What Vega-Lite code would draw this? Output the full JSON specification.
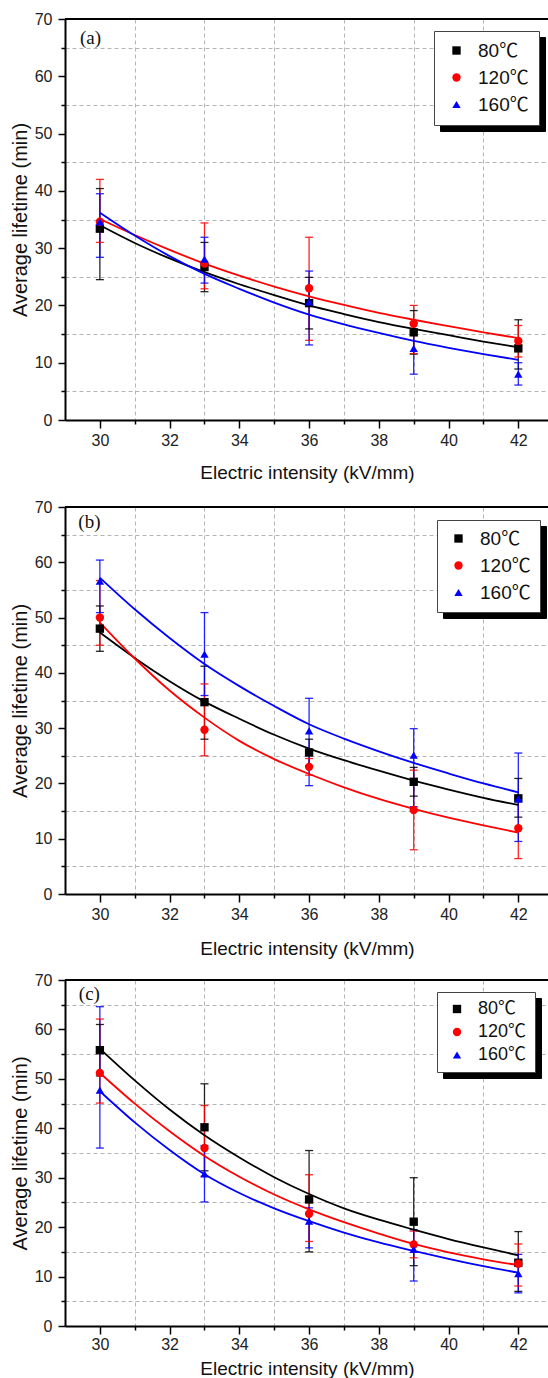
{
"$schema": "https://vega.github.io/schema/vega-lite/v6.json",
"padding": {"left": 10, "top": 11, "right": 0, "bottom": 0},
"background": "white",
"config": {"view": {"stroke": null}, "font": "Liberation Sans"},
"datasets": {
"pts": [
{"p":"a","t":"80℃","kv":30,"v":33.4,"lo":24.5,"hi":40.4},
{"p":"a","t":"80℃","kv":33,"v":26.7,"lo":22.4,"hi":31.0},
{"p":"a","t":"80℃","kv":36,"v":20.4,"lo":15.9,"hi":24.9},
{"p":"a","t":"80℃","kv":39,"v":15.3,"lo":11.5,"hi":19.1},
{"p":"a","t":"80℃","kv":42,"v":12.5,"lo":8.9,"hi":17.5},
{"p":"a","t":"120℃","kv":30,"v":34.6,"lo":31.0,"hi":42.0},
{"p":"a","t":"120℃","kv":33,"v":27.3,"lo":22.9,"hi":34.4},
{"p":"a","t":"120℃","kv":36,"v":23.0,"lo":13.9,"hi":31.9},
{"p":"a","t":"120℃","kv":39,"v":16.8,"lo":11.6,"hi":20.0},
{"p":"a","t":"120℃","kv":42,"v":13.8,"lo":11.0,"hi":16.5},
{"p":"a","t":"160℃","kv":30,"v":34.6,"lo":28.4,"hi":39.5},
{"p":"a","t":"160℃","kv":33,"v":28.1,"lo":23.9,"hi":31.9},
{"p":"a","t":"160℃","kv":36,"v":20.6,"lo":13.1,"hi":26.0},
{"p":"a","t":"160℃","kv":39,"v":12.5,"lo":8.0,"hi":17.0},
{"p":"a","t":"160℃","kv":42,"v":8.0,"lo":6.1,"hi":10.0},
{"p":"b","t":"80℃","kv":30,"v":48.0,"lo":43.9,"hi":52.1},
{"p":"b","t":"80℃","kv":33,"v":34.7,"lo":28.0,"hi":41.2},
{"p":"b","t":"80℃","kv":36,"v":25.6,"lo":23.2,"hi":28.0},
{"p":"b","t":"80℃","kv":39,"v":20.3,"lo":17.7,"hi":22.9},
{"p":"b","t":"80℃","kv":42,"v":17.3,"lo":13.9,"hi":20.9},
{"p":"b","t":"120℃","kv":30,"v":50.0,"lo":45.0,"hi":56.7},
{"p":"b","t":"120℃","kv":33,"v":29.7,"lo":25.0,"hi":38.0},
{"p":"b","t":"120℃","kv":36,"v":23.0,"lo":21.5,"hi":24.5},
{"p":"b","t":"120℃","kv":39,"v":15.2,"lo":8.0,"hi":22.4},
{"p":"b","t":"120℃","kv":42,"v":11.9,"lo":6.4,"hi":17.4},
{"p":"b","t":"160℃","kv":30,"v":56.6,"lo":50.9,"hi":60.4},
{"p":"b","t":"160℃","kv":33,"v":43.4,"lo":35.9,"hi":50.9},
{"p":"b","t":"160℃","kv":36,"v":29.5,"lo":19.6,"hi":35.4},
{"p":"b","t":"160℃","kv":39,"v":25.1,"lo":15.8,"hi":29.9},
{"p":"b","t":"160℃","kv":42,"v":17.2,"lo":9.5,"hi":25.5},
{"p":"c","t":"80℃","kv":30,"v":55.8,"lo":50.6,"hi":61.0},
{"p":"c","t":"80℃","kv":33,"v":40.2,"lo":31.4,"hi":49.0},
{"p":"c","t":"80℃","kv":36,"v":25.6,"lo":15.0,"hi":35.5},
{"p":"c","t":"80℃","kv":39,"v":21.1,"lo":12.2,"hi":30.0},
{"p":"c","t":"80℃","kv":42,"v":12.8,"lo":7.0,"hi":19.1},
{"p":"c","t":"120℃","kv":30,"v":51.2,"lo":45.1,"hi":62.1},
{"p":"c","t":"120℃","kv":33,"v":36.0,"lo":30.3,"hi":44.6},
{"p":"c","t":"120℃","kv":36,"v":22.7,"lo":17.1,"hi":30.6},
{"p":"c","t":"120℃","kv":39,"v":16.5,"lo":13.8,"hi":19.2},
{"p":"c","t":"120℃","kv":42,"v":12.6,"lo":8.1,"hi":16.6},
{"p":"c","t":"160℃","kv":30,"v":47.7,"lo":36.0,"hi":64.6},
{"p":"c","t":"160℃","kv":33,"v":30.8,"lo":25.1,"hi":36.5},
{"p":"c","t":"160℃","kv":36,"v":21.2,"lo":15.8,"hi":23.9},
{"p":"c","t":"160℃","kv":39,"v":15.5,"lo":9.1,"hi":19.5},
{"p":"c","t":"160℃","kv":42,"v":10.6,"lo":6.7,"hi":14.5}
],
"curves": [
{"p":"a","t":"80℃","kv":30,"v":34.0},{"p":"a","t":"80℃","kv":31,"v":30.9},{"p":"a","t":"80℃","kv":32,"v":28.2},{"p":"a","t":"80℃","kv":33,"v":25.8},{"p":"a","t":"80℃","kv":34,"v":23.7},{"p":"a","t":"80℃","kv":35,"v":21.8},{"p":"a","t":"80℃","kv":36,"v":20.0},{"p":"a","t":"80℃","kv":37,"v":18.5},{"p":"a","t":"80℃","kv":38,"v":17.1},{"p":"a","t":"80℃","kv":39,"v":15.9},{"p":"a","t":"80℃","kv":40,"v":14.8},{"p":"a","t":"80℃","kv":41,"v":13.7},{"p":"a","t":"80℃","kv":42,"v":12.7},
{"p":"a","t":"120℃","kv":30,"v":35.1},{"p":"a","t":"120℃","kv":31,"v":32.3},{"p":"a","t":"120℃","kv":32,"v":29.7},{"p":"a","t":"120℃","kv":33,"v":27.3},{"p":"a","t":"120℃","kv":34,"v":25.2},{"p":"a","t":"120℃","kv":35,"v":23.3},{"p":"a","t":"120℃","kv":36,"v":21.6},{"p":"a","t":"120℃","kv":37,"v":20.1},{"p":"a","t":"120℃","kv":38,"v":18.7},{"p":"a","t":"120℃","kv":39,"v":17.5},{"p":"a","t":"120℃","kv":40,"v":16.4},{"p":"a","t":"120℃","kv":41,"v":15.3},{"p":"a","t":"120℃","kv":42,"v":14.3},
{"p":"a","t":"160℃","kv":30,"v":36.2},{"p":"a","t":"160℃","kv":31,"v":32.2},{"p":"a","t":"160℃","kv":32,"v":28.6},{"p":"a","t":"160℃","kv":33,"v":25.5},{"p":"a","t":"160℃","kv":34,"v":22.9},{"p":"a","t":"160℃","kv":35,"v":20.5},{"p":"a","t":"160℃","kv":36,"v":18.4},{"p":"a","t":"160℃","kv":37,"v":16.7},{"p":"a","t":"160℃","kv":38,"v":15.2},{"p":"a","t":"160℃","kv":39,"v":13.8},{"p":"a","t":"160℃","kv":40,"v":12.6},{"p":"a","t":"160℃","kv":41,"v":11.5},{"p":"a","t":"160℃","kv":42,"v":10.5},
{"p":"b","t":"80℃","kv":30,"v":47.3},{"p":"b","t":"80℃","kv":31,"v":42.7},{"p":"b","t":"80℃","kv":32,"v":38.5},{"p":"b","t":"80℃","kv":33,"v":34.8},{"p":"b","t":"80℃","kv":34,"v":31.7},{"p":"b","t":"80℃","kv":35,"v":28.8},{"p":"b","t":"80℃","kv":36,"v":26.3},{"p":"b","t":"80℃","kv":37,"v":24.2},{"p":"b","t":"80℃","kv":38,"v":22.3},{"p":"b","t":"80℃","kv":39,"v":20.5},{"p":"b","t":"80℃","kv":40,"v":18.9},{"p":"b","t":"80℃","kv":41,"v":17.4},{"p":"b","t":"80℃","kv":42,"v":16.1},
{"p":"b","t":"120℃","kv":30,"v":49.1},{"p":"b","t":"120℃","kv":31,"v":42.6},{"p":"b","t":"120℃","kv":32,"v":36.8},{"p":"b","t":"120℃","kv":33,"v":31.9},{"p":"b","t":"120℃","kv":34,"v":27.7},{"p":"b","t":"120℃","kv":35,"v":24.4},{"p":"b","t":"120℃","kv":36,"v":21.7},{"p":"b","t":"120℃","kv":37,"v":19.3},{"p":"b","t":"120℃","kv":38,"v":17.2},{"p":"b","t":"120℃","kv":39,"v":15.4},{"p":"b","t":"120℃","kv":40,"v":13.8},{"p":"b","t":"120℃","kv":41,"v":12.4},{"p":"b","t":"120℃","kv":42,"v":11.1},
{"p":"b","t":"160℃","kv":30,"v":57.2},{"p":"b","t":"160℃","kv":31,"v":51.5},{"p":"b","t":"160℃","kv":32,"v":46.3},{"p":"b","t":"160℃","kv":33,"v":41.6},{"p":"b","t":"160℃","kv":34,"v":37.6},{"p":"b","t":"160℃","kv":35,"v":34.0},{"p":"b","t":"160℃","kv":36,"v":30.7},{"p":"b","t":"160℃","kv":37,"v":28.1},{"p":"b","t":"160℃","kv":38,"v":25.8},{"p":"b","t":"160℃","kv":39,"v":23.7},{"p":"b","t":"160℃","kv":40,"v":21.8},{"p":"b","t":"160℃","kv":41,"v":20.0},{"p":"b","t":"160℃","kv":42,"v":18.4},
{"p":"c","t":"80℃","kv":30,"v":56.1},{"p":"c","t":"80℃","kv":31,"v":49.7},{"p":"c","t":"80℃","kv":32,"v":43.8},{"p":"c","t":"80℃","kv":33,"v":38.6},{"p":"c","t":"80℃","kv":34,"v":34.1},{"p":"c","t":"80℃","kv":35,"v":30.1},{"p":"c","t":"80℃","kv":36,"v":26.7},{"p":"c","t":"80℃","kv":37,"v":23.8},{"p":"c","t":"80℃","kv":38,"v":21.5},{"p":"c","t":"80℃","kv":39,"v":19.5},{"p":"c","t":"80℃","kv":40,"v":17.6},{"p":"c","t":"80℃","kv":41,"v":15.9},{"p":"c","t":"80℃","kv":42,"v":14.3},
{"p":"c","t":"120℃","kv":30,"v":51.2},{"p":"c","t":"120℃","kv":31,"v":45.0},{"p":"c","t":"120℃","kv":32,"v":39.4},{"p":"c","t":"120℃","kv":33,"v":34.4},{"p":"c","t":"120℃","kv":34,"v":30.2},{"p":"c","t":"120℃","kv":35,"v":26.6},{"p":"c","t":"120℃","kv":36,"v":23.6},{"p":"c","t":"120℃","kv":37,"v":21.0},{"p":"c","t":"120℃","kv":38,"v":18.7},{"p":"c","t":"120℃","kv":39,"v":16.6},{"p":"c","t":"120℃","kv":40,"v":14.9},{"p":"c","t":"120℃","kv":41,"v":13.5},{"p":"c","t":"120℃","kv":42,"v":12.3},
{"p":"c","t":"160℃","kv":30,"v":47.5},{"p":"c","t":"160℃","kv":31,"v":41.2},{"p":"c","t":"160℃","kv":32,"v":35.6},{"p":"c","t":"160℃","kv":33,"v":30.7},{"p":"c","t":"160℃","kv":34,"v":26.9},{"p":"c","t":"160℃","kv":35,"v":23.8},{"p":"c","t":"160℃","kv":36,"v":21.2},{"p":"c","t":"160℃","kv":37,"v":18.9},{"p":"c","t":"160℃","kv":38,"v":16.9},{"p":"c","t":"160℃","kv":39,"v":15.2},{"p":"c","t":"160℃","kv":40,"v":13.6},{"p":"c","t":"160℃","kv":41,"v":12.1},{"p":"c","t":"160℃","kv":42,"v":10.8}
]
},
"spacing": 17,
"resolve": {"scale": {"x": "independent", "y": "independent", "color": "independent", "shape": "independent", "stroke": "independent", "fill": "independent", "strokeDash": "independent"}},
"vconcat": [
{
"width": 484, "height": 401,
"resolve": {"axis": {"y": "independent"}},
"layer": [
{"data": {"name": "curves"}, "transform": [{"filter": "datum.p == 'a'"}],
 "mark": {"type": "line", "opacity": 0},
 "encoding": {"x": {"field": "kv", "type": "quantitative", "scale": {"domain": [29, 42.88], "nice": false, "zero": false}},
  "y": {"field": "v", "type": "quantitative", "scale": {"domain": [0, 70], "nice": false}, "axis": null},
  "strokeDash": {"field": "t", "type": "nominal", "legend": {"orient": "none", "legendX": 375, "legendY": 18, "title": null, "padding": 10, "rowPadding": 7, "labelFont": "Liberation Sans, Noto Sans CJK SC", "labelFontSize": 19, "labelColor": "#000", "labelOffset": 12, "symbolSize": 70, "symbolOffset": 3, "symbolType": "square", "symbolFillColor": "#000", "symbolStrokeColor": "#000", "fillColor": "#000", "strokeColor": "#000"}}}},
{"data": {"name": "pts"}, "transform": [{"filter": "datum.p == 'a'"}],
 "mark": {"type": "rule", "strokeWidth": 1.3, "opacity": 0.85},
 "encoding": {"x": {"field": "kv", "type": "quantitative", "scale": {"domain": [29, 42.88], "nice": false, "zero": false},
   "axis": {"values": [30,31,32,33,34,35,36,37,38,39,40,41,42], "labelExpr": "datum.value % 2 == 0 ? datum.label : ''",
   "tickSize": {"condition": {"test": "datum.value % 2 == 0", "value": 8}, "value": 4},
   "grid": true, "gridOpacity": {"condition": {"test": "datum.value % 2 == 0", "value": 0}, "value": 1},
   "gridColor": "#b4b4b4", "gridDash": [4, 3], "gridWidth": 1,
   "domainColor": "#000", "domainWidth": 2, "tickColor": "#000", "tickWidth": 1.5,
   "labelFont": "Liberation Sans", "labelFontSize": 16, "labelColor": "#222", "labelPadding": 4,
   "title": "Electric intensity (kV/mm)", "titleFont": "Liberation Sans", "titleFontSize": 19, "titleFontWeight": "normal", "titleColor": "#111", "titlePadding": 15}},
  "y": {"field": "lo", "type": "quantitative", "scale": {"domain": [0, 70], "nice": false},
  "axis": {"values": [0,5,10,15,20,25,30,35,40,45,50,55,60,65,70], "labelExpr": "datum.value % 10 == 0 ? datum.label : ''",
   "tickSize": {"condition": {"test": "datum.value % 10 == 0", "value": 7}, "value": 4},
   "grid": true, "gridOpacity": {"condition": {"test": "datum.value % 10 == 0", "value": 0}, "value": 1},
   "gridColor": "#b4b4b4", "gridDash": [4, 3], "gridWidth": 1,
   "domainColor": "#000", "domainWidth": 2, "tickColor": "#000", "tickWidth": 1.5,
   "labelFont": "Liberation Sans", "labelFontSize": 16, "labelColor": "#222", "labelPadding": 6,
   "title": "Average lifetime (min)", "titleFont": "Liberation Sans", "titleFontSize": 20, "titleFontWeight": "normal", "titleColor": "#111", "titlePadding": 4}},
  "y2": {"field": "hi"},
  "stroke": {"field": "t", "type": "nominal", "scale": {"domain": ["120℃", "80℃", "160℃"], "range": ["#ff0000", "#000000", "#0000ff"]}, "legend": null}}},
{"data": {"values": [{}]}, "mark": {"type": "rule", "color": "#000", "strokeWidth": 2},
 "encoding": {"y": {"datum": 70, "type": "quantitative", "scale": {"domain": [0, 70], "nice": false}, "axis": null}}},
{"data": {"name": "pts"}, "transform": [{"filter": "datum.p == 'a'"}],
 "mark": {"type": "tick", "orient": "horizontal", "size": 8, "thickness": 1.3, "opacity": 0.85},
 "encoding": {"x": {"field": "kv", "type": "quantitative", "scale": {"domain": [29, 42.88], "nice": false, "zero": false}},
  "y": {"field": "lo", "type": "quantitative", "scale": {"domain": [0, 70], "nice": false}, "axis": null},
  "fill": {"field": "t", "type": "nominal", "scale": {"domain": ["160℃", "120℃", "80℃"], "range": ["#0000ff", "#ff0000", "#000000"]}, "legend": null}}},
{"data": {"name": "pts"}, "transform": [{"filter": "datum.p == 'a'"}],
 "mark": {"type": "tick", "orient": "horizontal", "size": 8, "thickness": 1.3, "opacity": 0.85},
 "encoding": {"x": {"field": "kv", "type": "quantitative", "scale": {"domain": [29, 42.88], "nice": false, "zero": false}},
  "y": {"field": "hi", "type": "quantitative", "scale": {"domain": [0, 70], "nice": false}, "axis": null},
  "fill": {"field": "t", "type": "nominal", "scale": {"domain": ["160℃", "120℃", "80℃"], "range": ["#0000ff", "#ff0000", "#000000"]}, "legend": null}}},
{"data": {"name": "curves"}, "transform": [{"filter": "datum.p == 'a'"}],
 "mark": {"type": "line", "interpolate": "monotone", "strokeWidth": 1.8},
 "encoding": {"x": {"field": "kv", "type": "quantitative", "scale": {"domain": [29, 42.88], "nice": false, "zero": false}},
  "y": {"field": "v", "type": "quantitative", "scale": {"domain": [0, 70], "nice": false}, "axis": null},
  "stroke": {"field": "t", "type": "nominal", "scale": {"domain": ["120℃", "80℃", "160℃"], "range": ["#ff0000", "#000000", "#0000ff"]}, "legend": null}}},
{"data": {"name": "pts"}, "transform": [{"filter": "datum.p == 'a'"}],
 "mark": {"type": "point", "filled": true, "size": 70, "opacity": 1},
 "encoding": {"x": {"field": "kv", "type": "quantitative", "scale": {"domain": [29, 42.88], "nice": false, "zero": false}},
  "y": {"field": "v", "type": "quantitative", "scale": {"domain": [0, 70], "nice": false}, "axis": null},
  "color": {"field": "t", "type": "nominal", "scale": {"domain": ["80℃", "120℃", "160℃"], "range": ["#000000", "#ff0000", "#0000ff"]},
   "legend": {"orient": "none", "legendX": 369, "legendY": 12, "title": null, "padding": 10, "rowPadding": 7, "labelFont": "Liberation Sans, Noto Sans CJK SC", "labelFontSize": 19, "labelColor": "#111", "labelOffset": 12, "symbolSize": 70, "symbolOffset": 3, "fillColor": "#ffffff", "strokeColor": "#444"}},
  "shape": {"field": "t", "type": "nominal", "scale": {"domain": ["80℃", "120℃", "160℃"], "range": ["square", "circle", "triangle-up"]},
   "legend": {"orient": "none", "legendX": 369, "legendY": 12, "title": null, "padding": 10, "rowPadding": 7, "labelFont": "Liberation Sans, Noto Sans CJK SC", "labelFontSize": 19, "labelColor": "#111", "labelOffset": 12, "symbolSize": 70, "symbolOffset": 3, "fillColor": "#ffffff", "strokeColor": "#444"}}}},
{"data": {"values": [{"lab": "(a)"}]},
 "mark": {"type": "text", "font": "Liberation Serif", "fontSize": 19, "color": "#111", "align": "center", "baseline": "middle"},
 "encoding": {"x": {"datum": 29.73, "type": "quantitative", "scale": {"domain": [29, 42.88], "nice": false, "zero": false}},
  "y": {"datum": 66.6, "type": "quantitative", "scale": {"domain": [0, 70], "nice": false}, "axis": null},
  "text": {"field": "lab"}}}
]
},
{
"spacing": 14,
"resolve": {"scale": {"x": "independent", "y": "independent", "color": "independent", "shape": "independent", "stroke": "independent", "fill": "independent", "strokeDash": "independent"}},
"vconcat": [
{
"width": 484, "height": 387,
"resolve": {"axis": {"y": "independent"}},
"layer": [
{"data": {"name": "curves"}, "transform": [{"filter": "datum.p == 'b'"}],
 "mark": {"type": "line", "opacity": 0},
 "encoding": {"x": {"field": "kv", "type": "quantitative", "scale": {"domain": [29, 42.88], "nice": false, "zero": false}},
  "y": {"field": "v", "type": "quantitative", "scale": {"domain": [0, 70], "nice": false}, "axis": null},
  "strokeDash": {"field": "t", "type": "nominal", "legend": {"orient": "none", "legendX": 378, "legendY": 19, "title": null, "padding": 9, "rowPadding": 7, "labelFont": "Liberation Sans, Noto Sans CJK SC", "labelFontSize": 19, "labelColor": "#000", "labelOffset": 12, "symbolSize": 70, "symbolOffset": 3, "symbolType": "square", "symbolFillColor": "#000", "symbolStrokeColor": "#000", "fillColor": "#000", "strokeColor": "#000"}}}},
{"data": {"name": "pts"}, "transform": [{"filter": "datum.p == 'b'"}],
 "mark": {"type": "rule", "strokeWidth": 1.3, "opacity": 0.85},
 "encoding": {"x": {"field": "kv", "type": "quantitative", "scale": {"domain": [29, 42.88], "nice": false, "zero": false},
   "axis": {"values": [30,31,32,33,34,35,36,37,38,39,40,41,42], "labelExpr": "datum.value % 2 == 0 ? datum.label : ''",
   "tickSize": {"condition": {"test": "datum.value % 2 == 0", "value": 8}, "value": 4},
   "grid": true, "gridOpacity": {"condition": {"test": "datum.value % 2 == 0", "value": 0}, "value": 1},
   "gridColor": "#b4b4b4", "gridDash": [4, 3], "gridWidth": 1,
   "domainColor": "#000", "domainWidth": 2, "tickColor": "#000", "tickWidth": 1.5,
   "labelFont": "Liberation Sans", "labelFontSize": 16, "labelColor": "#222", "labelPadding": 4,
   "title": "Electric intensity (kV/mm)", "titleFont": "Liberation Sans", "titleFontSize": 19, "titleFontWeight": "normal", "titleColor": "#111", "titlePadding": 17}},
  "y": {"field": "lo", "type": "quantitative", "scale": {"domain": [0, 70], "nice": false},
  "axis": {"values": [0,5,10,15,20,25,30,35,40,45,50,55,60,65,70], "labelExpr": "datum.value % 10 == 0 ? datum.label : ''",
   "tickSize": {"condition": {"test": "datum.value % 10 == 0", "value": 7}, "value": 4},
   "grid": true, "gridOpacity": {"condition": {"test": "datum.value % 10 == 0", "value": 0}, "value": 1},
   "gridColor": "#b4b4b4", "gridDash": [4, 3], "gridWidth": 1,
   "domainColor": "#000", "domainWidth": 2, "tickColor": "#000", "tickWidth": 1.5,
   "labelFont": "Liberation Sans", "labelFontSize": 16, "labelColor": "#222", "labelPadding": 6,
   "title": "Average lifetime (min)", "titleFont": "Liberation Sans", "titleFontSize": 20, "titleFontWeight": "normal", "titleColor": "#111", "titlePadding": 4}},
  "y2": {"field": "hi"},
  "stroke": {"field": "t", "type": "nominal", "scale": {"domain": ["120℃", "80℃", "160℃"], "range": ["#ff0000", "#000000", "#0000ff"]}, "legend": null}}},
{"data": {"values": [{}]}, "mark": {"type": "rule", "color": "#000", "strokeWidth": 2},
 "encoding": {"y": {"datum": 70, "type": "quantitative", "scale": {"domain": [0, 70], "nice": false}, "axis": null}}},
{"data": {"name": "pts"}, "transform": [{"filter": "datum.p == 'b'"}],
 "mark": {"type": "tick", "orient": "horizontal", "size": 8, "thickness": 1.3, "opacity": 0.85},
 "encoding": {"x": {"field": "kv", "type": "quantitative", "scale": {"domain": [29, 42.88], "nice": false, "zero": false}},
  "y": {"field": "lo", "type": "quantitative", "scale": {"domain": [0, 70], "nice": false}, "axis": null},
  "fill": {"field": "t", "type": "nominal", "scale": {"domain": ["160℃", "120℃", "80℃"], "range": ["#0000ff", "#ff0000", "#000000"]}, "legend": null}}},
{"data": {"name": "pts"}, "transform": [{"filter": "datum.p == 'b'"}],
 "mark": {"type": "tick", "orient": "horizontal", "size": 8, "thickness": 1.3, "opacity": 0.85},
 "encoding": {"x": {"field": "kv", "type": "quantitative", "scale": {"domain": [29, 42.88], "nice": false, "zero": false}},
  "y": {"field": "hi", "type": "quantitative", "scale": {"domain": [0, 70], "nice": false}, "axis": null},
  "fill": {"field": "t", "type": "nominal", "scale": {"domain": ["160℃", "120℃", "80℃"], "range": ["#0000ff", "#ff0000", "#000000"]}, "legend": null}}},
{"data": {"name": "curves"}, "transform": [{"filter": "datum.p == 'b'"}],
 "mark": {"type": "line", "interpolate": "monotone", "strokeWidth": 1.8},
 "encoding": {"x": {"field": "kv", "type": "quantitative", "scale": {"domain": [29, 42.88], "nice": false, "zero": false}},
  "y": {"field": "v", "type": "quantitative", "scale": {"domain": [0, 70], "nice": false}, "axis": null},
  "stroke": {"field": "t", "type": "nominal", "scale": {"domain": ["120℃", "80℃", "160℃"], "range": ["#ff0000", "#000000", "#0000ff"]}, "legend": null}}},
{"data": {"name": "pts"}, "transform": [{"filter": "datum.p == 'b'"}],
 "mark": {"type": "point", "filled": true, "size": 70, "opacity": 1},
 "encoding": {"x": {"field": "kv", "type": "quantitative", "scale": {"domain": [29, 42.88], "nice": false, "zero": false}},
  "y": {"field": "v", "type": "quantitative", "scale": {"domain": [0, 70], "nice": false}, "axis": null},
  "color": {"field": "t", "type": "nominal", "scale": {"domain": ["80℃", "120℃", "160℃"], "range": ["#000000", "#ff0000", "#0000ff"]},
   "legend": {"orient": "none", "legendX": 372, "legendY": 13, "title": null, "padding": 9, "rowPadding": 7, "labelFont": "Liberation Sans, Noto Sans CJK SC", "labelFontSize": 19, "labelColor": "#111", "labelOffset": 12, "symbolSize": 70, "symbolOffset": 3, "fillColor": "#ffffff", "strokeColor": "#444"}},
  "shape": {"field": "t", "type": "nominal", "scale": {"domain": ["80℃", "120℃", "160℃"], "range": ["square", "circle", "triangle-up"]},
   "legend": {"orient": "none", "legendX": 372, "legendY": 13, "title": null, "padding": 9, "rowPadding": 7, "labelFont": "Liberation Sans, Noto Sans CJK SC", "labelFontSize": 19, "labelColor": "#111", "labelOffset": 12, "symbolSize": 70, "symbolOffset": 3, "fillColor": "#ffffff", "strokeColor": "#444"}}}},
{"data": {"values": [{"lab": "(b)"}]},
 "mark": {"type": "text", "font": "Liberation Serif", "fontSize": 19, "color": "#111", "align": "center", "baseline": "middle"},
 "encoding": {"x": {"datum": 29.7, "type": "quantitative", "scale": {"domain": [29, 42.88], "nice": false, "zero": false}},
  "y": {"datum": 67.2, "type": "quantitative", "scale": {"domain": [0, 70], "nice": false}, "axis": null},
  "text": {"field": "lab"}}}
]
},
{
"width": 484, "height": 346,
"resolve": {"axis": {"y": "independent"}},
"layer": [
{"data": {"name": "curves"}, "transform": [{"filter": "datum.p == 'c'"}],
 "mark": {"type": "line", "opacity": 0},
 "encoding": {"x": {"field": "kv", "type": "quantitative", "scale": {"domain": [29, 42.88], "nice": false, "zero": false}},
  "y": {"field": "v", "type": "quantitative", "scale": {"domain": [0, 70], "nice": false}, "axis": null},
  "strokeDash": {"field": "t", "type": "nominal", "legend": {"orient": "none", "legendX": 378, "legendY": 18, "title": null, "padding": 8, "rowPadding": 5, "labelFont": "Liberation Sans, Noto Sans CJK SC", "labelFontSize": 18, "labelColor": "#000", "labelOffset": 12, "symbolSize": 70, "symbolOffset": 3, "symbolType": "square", "symbolFillColor": "#000", "symbolStrokeColor": "#000", "fillColor": "#000", "strokeColor": "#000"}}}},
{"data": {"name": "pts"}, "transform": [{"filter": "datum.p == 'c'"}],
 "mark": {"type": "rule", "strokeWidth": 1.3, "opacity": 0.85},
 "encoding": {"x": {"field": "kv", "type": "quantitative", "scale": {"domain": [29, 42.88], "nice": false, "zero": false},
   "axis": {"values": [30,31,32,33,34,35,36,37,38,39,40,41,42], "labelExpr": "datum.value % 2 == 0 ? datum.label : ''",
   "tickSize": {"condition": {"test": "datum.value % 2 == 0", "value": 8}, "value": 4},
   "grid": true, "gridOpacity": {"condition": {"test": "datum.value % 2 == 0", "value": 0}, "value": 1},
   "gridColor": "#b4b4b4", "gridDash": [4, 3], "gridWidth": 1,
   "domainColor": "#000", "domainWidth": 2, "tickColor": "#000", "tickWidth": 1.5,
   "labelFont": "Liberation Sans", "labelFontSize": 16, "labelColor": "#222", "labelPadding": 2,
   "title": "Electric intensity (kV/mm)", "titleFont": "Liberation Sans", "titleFontSize": 19, "titleFontWeight": "normal", "titleColor": "#111", "titlePadding": 7}},
  "y": {"field": "lo", "type": "quantitative", "scale": {"domain": [0, 70], "nice": false},
  "axis": {"values": [0,5,10,15,20,25,30,35,40,45,50,55,60,65,70], "labelExpr": "datum.value % 10 == 0 ? datum.label : ''",
   "tickSize": {"condition": {"test": "datum.value % 10 == 0", "value": 7}, "value": 4},
   "grid": true, "gridOpacity": {"condition": {"test": "datum.value % 10 == 0", "value": 0}, "value": 1},
   "gridColor": "#b4b4b4", "gridDash": [4, 3], "gridWidth": 1,
   "domainColor": "#000", "domainWidth": 2, "tickColor": "#000", "tickWidth": 1.5,
   "labelFont": "Liberation Sans", "labelFontSize": 16, "labelColor": "#222", "labelPadding": 6,
   "title": "Average lifetime (min)", "titleFont": "Liberation Sans", "titleFontSize": 20, "titleFontWeight": "normal", "titleColor": "#111", "titlePadding": 4}},
  "y2": {"field": "hi"},
  "stroke": {"field": "t", "type": "nominal", "scale": {"domain": ["120℃", "80℃", "160℃"], "range": ["#ff0000", "#000000", "#0000ff"]}, "legend": null}}},
{"data": {"values": [{}]}, "mark": {"type": "rule", "color": "#000", "strokeWidth": 2},
 "encoding": {"y": {"datum": 70, "type": "quantitative", "scale": {"domain": [0, 70], "nice": false}, "axis": null}}},
{"data": {"name": "pts"}, "transform": [{"filter": "datum.p == 'c'"}],
 "mark": {"type": "tick", "orient": "horizontal", "size": 8, "thickness": 1.3, "opacity": 0.85},
 "encoding": {"x": {"field": "kv", "type": "quantitative", "scale": {"domain": [29, 42.88], "nice": false, "zero": false}},
  "y": {"field": "lo", "type": "quantitative", "scale": {"domain": [0, 70], "nice": false}, "axis": null},
  "fill": {"field": "t", "type": "nominal", "scale": {"domain": ["160℃", "120℃", "80℃"], "range": ["#0000ff", "#ff0000", "#000000"]}, "legend": null}}},
{"data": {"name": "pts"}, "transform": [{"filter": "datum.p == 'c'"}],
 "mark": {"type": "tick", "orient": "horizontal", "size": 8, "thickness": 1.3, "opacity": 0.85},
 "encoding": {"x": {"field": "kv", "type": "quantitative", "scale": {"domain": [29, 42.88], "nice": false, "zero": false}},
  "y": {"field": "hi", "type": "quantitative", "scale": {"domain": [0, 70], "nice": false}, "axis": null},
  "fill": {"field": "t", "type": "nominal", "scale": {"domain": ["160℃", "120℃", "80℃"], "range": ["#0000ff", "#ff0000", "#000000"]}, "legend": null}}},
{"data": {"name": "curves"}, "transform": [{"filter": "datum.p == 'c'"}],
 "mark": {"type": "line", "interpolate": "monotone", "strokeWidth": 1.8},
 "encoding": {"x": {"field": "kv", "type": "quantitative", "scale": {"domain": [29, 42.88], "nice": false, "zero": false}},
  "y": {"field": "v", "type": "quantitative", "scale": {"domain": [0, 70], "nice": false}, "axis": null},
  "stroke": {"field": "t", "type": "nominal", "scale": {"domain": ["120℃", "80℃", "160℃"], "range": ["#ff0000", "#000000", "#0000ff"]}, "legend": null}}},
{"data": {"name": "pts"}, "transform": [{"filter": "datum.p == 'c'"}],
 "mark": {"type": "point", "filled": true, "size": 70, "opacity": 1},
 "encoding": {"x": {"field": "kv", "type": "quantitative", "scale": {"domain": [29, 42.88], "nice": false, "zero": false}},
  "y": {"field": "v", "type": "quantitative", "scale": {"domain": [0, 70], "nice": false}, "axis": null},
  "color": {"field": "t", "type": "nominal", "scale": {"domain": ["80℃", "120℃", "160℃"], "range": ["#000000", "#ff0000", "#0000ff"]},
   "legend": {"orient": "none", "legendX": 372, "legendY": 12, "title": null, "padding": 8, "rowPadding": 5, "labelFont": "Liberation Sans, Noto Sans CJK SC", "labelFontSize": 18, "labelColor": "#111", "labelOffset": 12, "symbolSize": 70, "symbolOffset": 3, "fillColor": "#ffffff", "strokeColor": "#444"}},
  "shape": {"field": "t", "type": "nominal", "scale": {"domain": ["80℃", "120℃", "160℃"], "range": ["square", "circle", "triangle-up"]},
   "legend": {"orient": "none", "legendX": 372, "legendY": 12, "title": null, "padding": 8, "rowPadding": 5, "labelFont": "Liberation Sans, Noto Sans CJK SC", "labelFontSize": 18, "labelColor": "#111", "labelOffset": 12, "symbolSize": 70, "symbolOffset": 3, "fillColor": "#ffffff", "strokeColor": "#444"}}}},
{"data": {"values": [{"lab": "(c)"}]},
 "mark": {"type": "text", "font": "Liberation Serif", "fontSize": 19, "color": "#111", "align": "center", "baseline": "middle"},
 "encoding": {"x": {"datum": 29.7, "type": "quantitative", "scale": {"domain": [29, 42.88], "nice": false, "zero": false}},
  "y": {"datum": 67.2, "type": "quantitative", "scale": {"domain": [0, 70], "nice": false}, "axis": null},
  "text": {"field": "lab"}}}
]
}
]
}
]
}
